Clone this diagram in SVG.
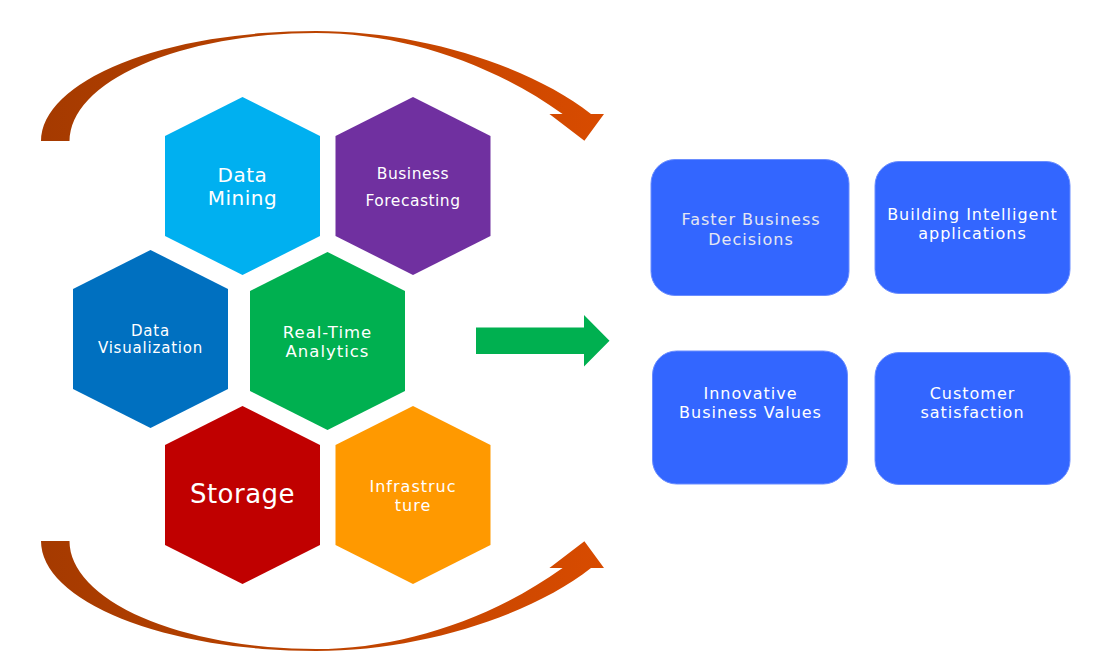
<svg xmlns="http://www.w3.org/2000/svg" width="1106" height="672" viewBox="0 0 1106 672">
  <defs>
    <linearGradient id="arcGrad" gradientUnits="userSpaceOnUse" x1="41" y1="0" x2="604" y2="0">
      <stop offset="0" stop-color="#A53A00"/>
      <stop offset="0.5" stop-color="#BC4300"/>
      <stop offset="1" stop-color="#D84B00"/>
    </linearGradient>
    <path id="hex" d="M 0 -89 L 77.5 -50 L 77.5 50 L 0 89 L -77.5 50 L -77.5 -50 Z"/>
  </defs>
  <style>
    .lbl { font-family: "DejaVu Sans", Verdana, sans-serif; fill: #FFFFFF; text-anchor: middle; }
    .box { fill: #3366FF; stroke: #6A8DFF; stroke-width: 1; }
    .blbl { font-family: "DejaVu Sans", Verdana, sans-serif; font-size: 16px; letter-spacing: 1px; fill: #FFFFFF; text-anchor: middle; }
  </style>
  <rect width="1106" height="672" fill="#FFFFFF"/>

  <g id="connectors">
    <path id="arc-top" fill="url(#arcGrad)" d="M 41 141 A 275 110 0 0 1 316 31 C 420 31 530 66 591 114 L 604 114 L 584.4 140.7 L 549.4 114 L 562.6 114 C 490 62 400 33 316 33 A 246.5 108 0 0 0 69.5 141 Z"/>
    <path id="arc-bottom" fill="url(#arcGrad)" transform="translate(0,682) scale(1,-1)" d="M 41 141 A 275 110 0 0 1 316 31 C 420 31 530 66 591 114 L 604 114 L 584.4 140.7 L 549.4 114 L 562.6 114 C 490 62 400 33 316 33 A 246.5 108 0 0 0 69.5 141 Z"/>
    <path id="arrow-right" fill="#00B050" d="M 476 327.5 L 584 327.5 L 584 315 L 609.5 340.7 L 584 366.5 L 584 354 L 476 354 Z"/>
  </g>

  <g id="hex-data-mining">
    <use href="#hex" x="242.5" y="186" fill="#00B0F0"/>
    <text class="lbl" x="242.5" y="182" font-size="20" letter-spacing="0.5">Data</text>
    <text class="lbl" x="242.5" y="205" font-size="20" letter-spacing="0.5">Mining</text>
  </g>
  <g id="hex-business-forecasting">
    <use href="#hex" x="413" y="186" fill="#7030A0"/>
    <text class="lbl" x="413" y="179" font-size="15.5" letter-spacing="0.5">Business</text>
    <text class="lbl" x="413" y="206" font-size="15.5" letter-spacing="0.5">Forecasting</text>
  </g>
  <g id="hex-data-visualization">
    <use href="#hex" x="150.5" y="339" fill="#0070C0"/>
    <text class="lbl" x="150.5" y="336" font-size="15" letter-spacing="0.8">Data</text>
    <text class="lbl" x="150.5" y="353" font-size="15" letter-spacing="0.8">Visualization</text>
  </g>
  <g id="hex-real-time-analytics">
    <use href="#hex" x="327.5" y="341" fill="#00B050"/>
    <text class="lbl" x="327.5" y="338" font-size="16.5" letter-spacing="1">Real-Time</text>
    <text class="lbl" x="327.5" y="357" font-size="16.5" letter-spacing="1">Analytics</text>
  </g>
  <g id="hex-storage">
    <use href="#hex" x="242.5" y="495" fill="#C00000"/>
    <text class="lbl" x="242.5" y="503" font-size="26" letter-spacing="0.5">Storage</text>
  </g>
  <g id="hex-infrastructure">
    <use href="#hex" x="413" y="495" fill="#FF9900"/>
    <text class="lbl" x="413" y="492" font-size="16" letter-spacing="1">Infrastruc</text>
    <text class="lbl" x="413" y="511" font-size="16" letter-spacing="1">ture</text>
  </g>

  <g id="box-faster-business-decisions">
    <rect class="box" x="651" y="159.5" width="198" height="136" rx="24"/>
    <text class="blbl" x="751" y="225" fill="#E4E6F2" style="fill:#E4E6F2">Faster Business</text>
    <text class="blbl" x="751" y="245" style="fill:#E4E6F2">Decisions</text>
  </g>
  <g id="box-building-intelligent-applications">
    <rect class="box" x="875" y="161.5" width="195" height="132" rx="24"/>
    <text class="blbl" x="972.5" y="219.5">Building Intelligent</text>
    <text class="blbl" x="972.5" y="238.5">applications</text>
  </g>
  <g id="box-innovative-business-values">
    <rect class="box" x="652.5" y="351" width="195" height="133" rx="24"/>
    <text class="blbl" x="750.5" y="399">Innovative</text>
    <text class="blbl" x="750.5" y="418">Business Values</text>
  </g>
  <g id="box-customer-satisfaction">
    <rect class="box" x="875" y="352.5" width="195" height="132" rx="24"/>
    <text class="blbl" x="972.5" y="399">Customer</text>
    <text class="blbl" x="972.5" y="417.5">satisfaction</text>
  </g>
</svg>
